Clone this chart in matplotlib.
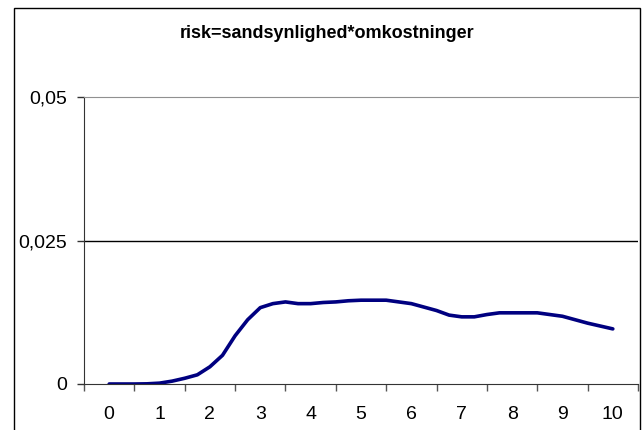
import matplotlib.pyplot as plt
import numpy as np
from matplotlib.patches import Rectangle

plt.rcParams['font.family'] = ['Liberation Sans', 'DejaVu Sans']

# risk values, x in steps of 0.25
x_vals = np.arange(0, 10.01, 0.25)
risk = [0, 0, 0, 0.00003, 0.00015, 0.0005, 0.0010, 0.0016, 0.0030, 0.0050,
        0.0084, 0.0112, 0.0133, 0.0140, 0.0143, 0.0140, 0.0140, 0.0142, 0.0143, 0.0145,
        0.0146, 0.0146, 0.0146, 0.0143, 0.0140, 0.0134, 0.0128, 0.0120, 0.0117, 0.0117,
        0.0121, 0.0124, 0.0124, 0.0124, 0.0124, 0.0121, 0.0118, 0.0112, 0.0106, 0.0101,
        0.0096]
x_labels = ['0', '1', '2', '3', '4', '5', '6', '7', '8', '9', '10']
y_ticks = [0, 0.025, 0.05]
y_labels = ['0', '0,025', '0,05']
title = 'risk=sandsynlighed*omkostninger'

W, H = 642, 430
fig = plt.figure(figsize=(W / 100, H / 100), dpi=100)
fig.patch.set_facecolor('white')

# chart frame
fig.patches.append(Rectangle((13.5 / W, -0.05), (639.5 - 13.5) / W, 1.05 - 7.5 / H,
                             transform=fig.transFigure, fill=False,
                             edgecolor='black', linewidth=1))

ax = fig.add_axes([84 / W, 1 - 384 / H, (638 - 84) / W, (384 - 97) / H])
ax.plot(x_vals, risk, color='#000080', linewidth=2.6, solid_capstyle='round')

ax.set_xlim(-0.5, 10.5)
ax.set_ylim(0, 0.05)

ax.set_yticks(y_ticks)
ax.set_yticklabels(y_labels, fontsize=14)
ax.tick_params(axis='y', length=5, width=1, color='#333333', pad=7)

ax.set_xticks(np.arange(-0.5, 10.6, 1))
ax.set_xticklabels([])
ax.tick_params(axis='x', which='major', length=5, width=1, color='#555555')
ax.set_xticks(np.arange(0, 11), minor=True)
ax.set_xticklabels(x_labels, minor=True, fontsize=14)
ax.tick_params(axis='x', which='minor', length=0, pad=16)

ax.axhline(0.025, color='black', linewidth=1)
ax.spines['right'].set_visible(False)
ax.spines['top'].set_color('#909090')
ax.spines['left'].set_color('#333333')
ax.spines['bottom'].set_color('#333333')

fig.text(327.5 / W, 1 - 33 / H, title, ha='center', va='center',
         fontsize=13, fontweight='bold')

fig.savefig('out.png', dpi=100)
